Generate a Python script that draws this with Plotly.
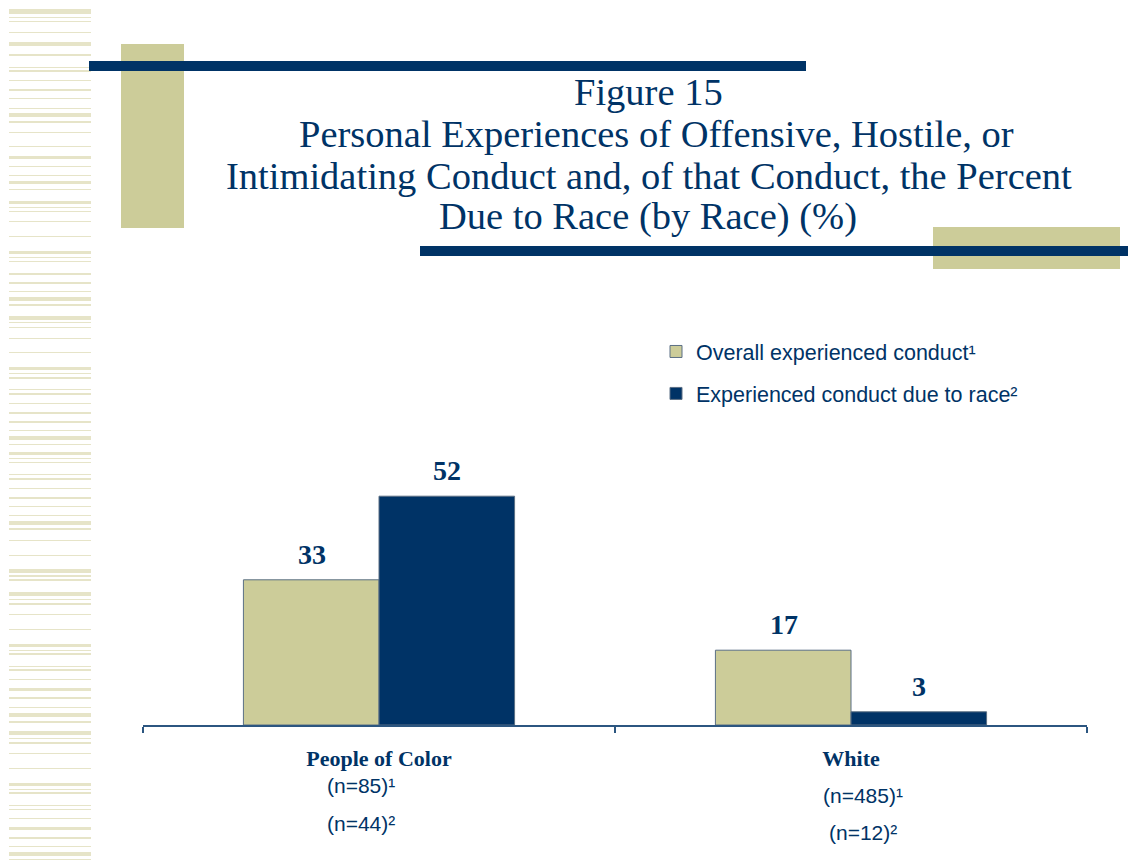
import plotly.graph_objects as go

# ---------------- data ----------------
categories = ["People of Color", "White"]
overall_conduct = [33, 17]
conduct_due_to_race = [52, 3]
series_names = ["Overall experienced conduct¹", "Experienced conduct due to race²"]
n_overall = ["(n=85)¹", "(n=485)¹"]
n_race = ["(n=44)²", "(n=12)²"]
title_lines = [
    "Figure 15",
    "Personal Experiences of Offensive, Hostile, or",
    "Intimidating Conduct and, of that Conduct, the Percent",
    "Due to Race (by Race) (%)",
]

KHAKI = "#cccc99"
NAVY = "#003366"
STRIPE = "#e6e4c8"
W, H = 1128, 860
ML, MR, MT, MB = 143, 41, 285, 135
PW, PH = W - ML - MR, H - MT - MB


def px(x):
    return (x - ML) / PW


def py(y):
    return (H - MB - y) / PH


fig = go.Figure()
fig.add_trace(go.Bar(
    x=categories, y=overall_conduct, name=series_names[0],
    marker=dict(color=KHAKI, line=dict(color="#5b6f84", width=1)),
    legendgroup="a", hoverinfo="skip",
))
fig.add_trace(go.Bar(
    x=categories, y=conduct_due_to_race, name=series_names[1],
    marker=dict(color=NAVY, line=dict(color="#5b6f84", width=1)),
    legendgroup="b", hoverinfo="skip",
))

annotations = []
# value labels
for i, cat in enumerate(categories):
    for vals, shift in ((overall_conduct, -67.5), (conduct_due_to_race, 67.5)):
        annotations.append(dict(
            x=cat, y=vals[i], xref="x", yref="y", text=str(vals[i]),
            showarrow=False, yanchor="bottom", xshift=shift, yshift=8,
            font=dict(family="Liberation Serif", size=28, color=NAVY, weight="bold"),
        ))

# n labels
n_pos = [((-18, 785), (-18, 823)), ((12, 795), (12, 832))]
for i, cat in enumerate(categories):
    for txt, (xs, yp) in zip((n_overall[i], n_race[i]), n_pos[i]):
        annotations.append(dict(
            x=cat, y=py(yp), xref="x", yref="paper", text=txt, showarrow=False,
            xshift=xs, yanchor="middle",
            font=dict(family="Liberation Sans", size=21, color=NAVY),
        ))

# title
for txt, xp, yp in zip(title_lines, (648, 656, 649, 648), (92, 134, 176, 216)):
    annotations.append(dict(
        x=px(xp), y=py(yp), xref="paper", yref="paper", text=txt,
        showarrow=False, xanchor="center", yanchor="middle",
        font=dict(family="Liberation Serif", size=38.5, color=NAVY),
    ))

# decorative shapes
shapes = []


def rect(x0, y0, x1, y1, color):
    shapes.append(dict(type="rect", xref="paper", yref="paper",
                       x0=px(x0), x1=px(x1), y0=py(y1), y1=py(y0),
                       fillcolor=color, line=dict(width=0), layer="below"))


stripes = [
    (9, 14), (17, 18), (21, 22), (32, 33), (42, 46), (54, 56), (67, 68), (70, 72),
    (80, 81), (89, 91), (98, 99), (108, 109), (113, 117), (121, 123), (132, 133),
    (146, 147), (156, 159), (166, 167), (175, 176), (181, 184), (189, 190),
    (201, 204), (207, 208), (211, 212), (221, 222), (236, 237), (251, 254),
    (257, 258), (261, 262), (273, 275), (282, 284), (291, 292), (297, 301),
    (304, 306), (316, 320), (322, 323), (327, 328), (338, 339), (352, 353),
    (367, 370), (373, 374), (377, 379), (389, 390), (393, 395), (403, 404),
    (412, 414), (421, 423), (430, 431), (436, 440), (444, 445), (452, 455),
    (458, 459), (462, 463), (474, 475), (478, 480), (488, 489), (497, 499),
    (506, 507), (515, 516), (521, 525), (528, 530), (540, 541), (555, 556),
    (569, 573), (575, 577), (579, 581), (592, 596), (599, 600), (603, 605),
    (614, 615), (629, 630), (644, 647), (650, 651), (653, 655), (666, 667),
    (669, 671), (679, 680), (688, 691), (697, 699), (707, 708), (713, 717),
    (721, 723), (731, 735), (738, 739), (742, 744), (753, 754), (768, 769),
    (783, 786), (789, 790), (792, 794), (805, 806), (809, 810), (818, 819),
    (827, 830), (837, 839), (846, 847), (852, 856), (859, 860),
]
for y0, y1 in stripes:
    rect(9, y0, 91, y1, STRIPE)

rect(121, 44, 184, 228, KHAKI)
rect(89, 61, 806, 71, NAVY)
rect(933, 227, 1120, 269, KHAKI)
rect(420, 246, 1128, 256, NAVY)

fig.update_layout(
    width=W, height=H,
    margin=dict(l=ML, r=MR, t=MT, b=MB, pad=0),
    paper_bgcolor="white", plot_bgcolor="white",
    barmode="group", bargap=0.4255, bargroupgap=0,
    showlegend=True,
    legend=dict(
        x=px(656), y=py(331), xanchor="left", yanchor="top",
        font=dict(family="Liberation Sans", size=21.5, color=NAVY),
        bgcolor="rgba(0,0,0,0)", traceorder="grouped", tracegroupgap=11,
    ),
    xaxis=dict(
        range=[-0.5, 1.5], showline=True, linecolor="#2c5680", linewidth=1.5,
        ticks="outside", tickson="boundaries", ticklen=6, tickcolor="#2c5680",
        tickwidth=1.5, showgrid=False, zeroline=False, fixedrange=True,
        tickfont=dict(family="Liberation Serif", size=22, color=NAVY, weight="bold"),
        ticklabelstandoff=13,
    ),
    yaxis=dict(range=[0, 100], visible=False, showgrid=False, zeroline=False,
               fixedrange=True),
    annotations=annotations, shapes=shapes,
)

fig.write_html("out.html", config={"displayModeBar": False},
               post_script="document.body.style.margin='0';")
